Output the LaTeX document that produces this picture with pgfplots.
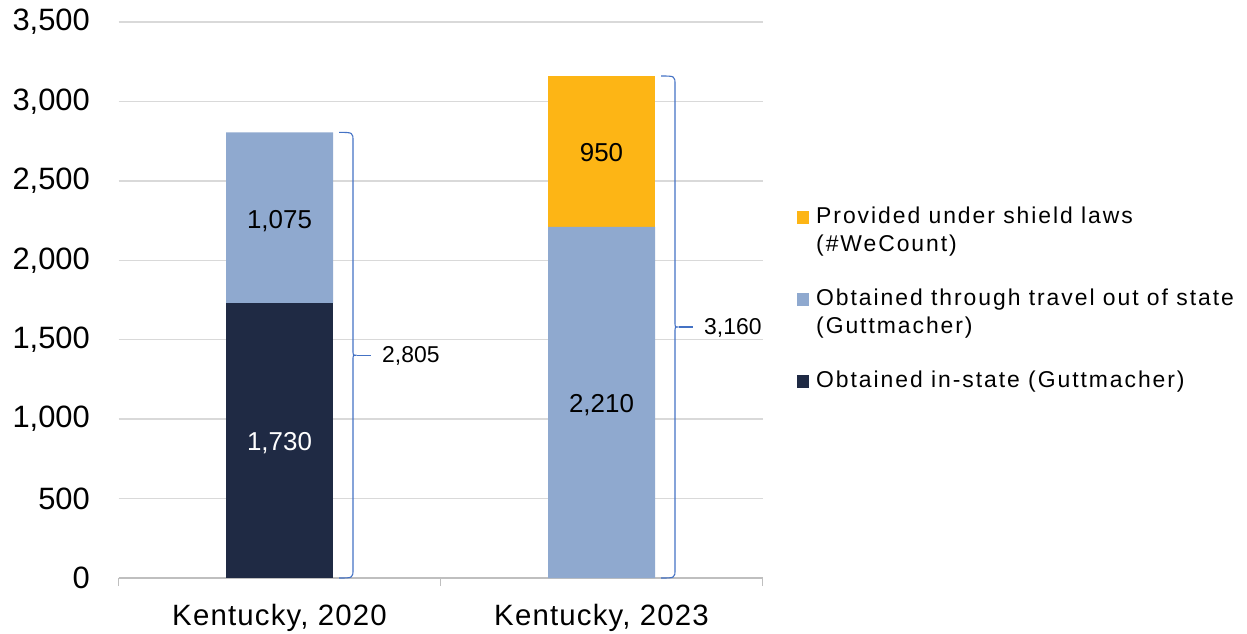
\documentclass[border=0pt]{standalone}
\usepackage{fontspec}
\setmainfont{Liberation Sans}
\usepackage{pgfplots}
\pgfplotsset{compat=1.18}
\definecolor{navy}{HTML}{1F2A44}
\definecolor{lblue}{HTML}{8FA9CF}
\definecolor{gold}{HTML}{FDB515}
\definecolor{gridc}{HTML}{D9D9D9}
\definecolor{axc}{HTML}{BFBFBF}
\definecolor{bracec}{HTML}{4472C4}
\pgfplotsset{
  oneline/.style={legend image code/.code={\fill[##1, draw=none] (0bp,0bp) rectangle (12bp,13bp);}},
  twoline/.style={legend image code/.code={\fill[##1, draw=none] (0bp,28bp) rectangle (12bp,41bp);}},
}
% #1 category, #2 top value, #3 mid value, #4 label
\newcommand{\ybrace}[4]{%
  \draw[bracec, line width=1.1bp]
    ([xshift=59.5bp]axis cs:#1,#2) .. controls ([xshift=73.5bp]axis cs:#1,#2) ..
    ([xshift=73.5bp,yshift=-9bp]axis cs:#1,#2) --
    ([xshift=73.5bp,yshift=5bp]axis cs:#1,#3) .. controls ([xshift=73.5bp]axis cs:#1,#3) ..
    ([xshift=77bp]axis cs:#1,#3) .. controls ([xshift=73.5bp]axis cs:#1,#3) ..
    ([xshift=73.5bp,yshift=-5bp]axis cs:#1,#3) --
    ([xshift=73.5bp,yshift=9bp]axis cs:#1,0) .. controls ([xshift=73.5bp]axis cs:#1,0) ..
    ([xshift=59.5bp]axis cs:#1,0);
  \draw[bracec, line width=1.1bp] ([xshift=77bp]axis cs:#1,#3) -- ([xshift=91.5bp]axis cs:#1,#3);
  \node[anchor=west, inner sep=0pt, font=\fontsize{23}{27}\selectfont] at ([xshift=102.5bp,yshift=-1bp]axis cs:#1,#3) {#4};
}
\begin{document}
\begin{tikzpicture}
\useasboundingbox (0,0) rectangle (1247bp,634bp);
\begin{axis}[
  at={(118.5bp,56bp)}, anchor=south west,
  scale only axis, width=644bp, height=556bp,
  clip=false,
  xmin=-0.5, xmax=1.5, ymin=0, ymax=3500,
  ybar stacked, bar width=107bp,
  ytick={0,500,...,3500},
  xtick={0,1}, xticklabels={{Kentucky, 2020},{Kentucky, 2023}},
  axis x line*=bottom, axis y line*=left,
  axis line style={-},
  x axis line style={draw=axc, line width=1.3bp},
  y axis line style={draw=none},
  ymajorgrids, grid style={draw=gridc, line width=1.3bp},
  major tick length=0pt,
  extra x ticks={-0.5,0.5,1.5}, extra x tick labels={},
  extra x tick style={major tick length=8bp, tick align=outside, tick style={draw=axc, line width=1.1bp}, grid=none},
  /pgf/number format/assume math mode=true,
  /pgf/number format/1000 sep={,},
  yticklabel style={font=\fontsize{31}{37}\selectfont, anchor=east, inner sep=0pt, xshift=-28.5bp},
  xticklabel style={font=\fontsize{29.5}{35}\selectfont\addfontfeatures{LetterSpace=4}, anchor=north, inner sep=0pt, yshift=-26bp},
  reverse legend,
  legend cell align=left,
  legend style={at={(axis description cs:1.0536,0.6709)}, anchor=north west, draw=none, fill=none, inner sep=0pt,
    font=\fontsize{23}{28}\selectfont\addfontfeatures{LetterSpace=8.5},
    cells={anchor=base west, align=left}, row sep=32bp,
    /tikz/column 1/.style={column sep=5bp}},
]
\addplot[fill=navy, draw=none, oneline] coordinates {(0,1730) (1,0)};
\addplot[fill=lblue, draw=none, twoline] coordinates {(0,1075) (1,2210)};
\addplot[fill=gold, draw=none, twoline] coordinates {(0,0) (1,950)};
\legend{Obtained in-state (Guttmacher), {Obtained through travel out of state\\(Guttmacher)}, {Provided under shield laws\\(\#WeCount)}}
\coordinate (l1) at (axis cs:0,865);
\coordinate (l2) at (axis cs:0,2267.5);
\coordinate (l3) at (axis cs:1,1105);
\coordinate (l4) at (axis cs:1,2685);
\ybrace{0}{2805}{1402.5}{2,805}
\ybrace{1}{3160}{1580}{3,160}
\end{axis}
\node[font=\fontsize{26}{31}\selectfont, text=white, yshift=-3bp] at (l1) {1,730};
\node[font=\fontsize{26}{31}\selectfont, yshift=-3bp] at (l2) {1,075};
\node[font=\fontsize{26}{31}\selectfont, yshift=-3bp] at (l3) {2,210};
\node[font=\fontsize{26}{31}\selectfont, yshift=-1bp] at (l4) {950};
\end{tikzpicture}
\end{document}
